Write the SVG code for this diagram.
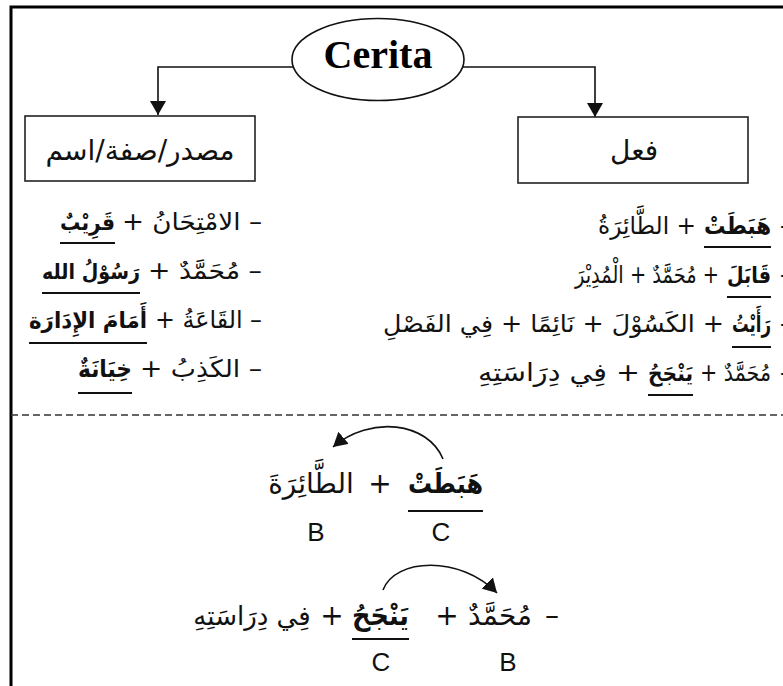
<svg xmlns="http://www.w3.org/2000/svg" width="783" height="686" viewBox="0 0 783 686">
<style>
.ar{font-family:"DejaVu Sans",sans-serif;font-size:24px;fill:#111}
.big{font-size:28px}
.b{font-weight:bold}
.lat{font-family:"Liberation Sans",sans-serif;font-size:26px;fill:#111}
.ul{stroke:#111;stroke-width:2}
.box{fill:#fff;stroke:#222;stroke-width:1.6}
.con{fill:none;stroke:#111;stroke-width:1.6}
</style>
<defs>
<marker id="ah" viewBox="0 0 14 16" refX="14" refY="8" markerWidth="14" markerHeight="16" markerUnits="userSpaceOnUse" orient="auto">
<path d="M0,0 L14,8 L0,16 z" fill="#111"/>
</marker>
</defs>
<rect width="783" height="686" fill="#fff"/>
<path d="M11,686 V7 H783" fill="none" stroke="#000" stroke-width="3"/>
<g id="connectors">
<path class="con" d="M293,67 H158 V115" marker-end="url(#ah)"/>
<path class="con" d="M463,67 H595 V117" marker-end="url(#ah)"/>
<path class="con" d="M443,459 C428,422 370,415 333,447" marker-end="url(#ah)"/>
<path class="con" d="M383,590 C395,558 460,555 497,593" marker-end="url(#ah)"/>
</g>
<g id="cerita">
<ellipse cx="378" cy="59.5" rx="86" ry="41" fill="#fff" stroke="#111" stroke-width="1.6"/>
<text x="378" y="68" text-anchor="middle" font-family="Liberation Serif,serif" font-weight="bold" font-size="40" fill="#000">Cerita</text>
</g>
<g id="box-left">
<rect class="box" x="25" y="116" width="230" height="65"/>
<text class="ar big" x="140" y="160" text-anchor="middle">مصدر/صفة/اسم</text>
</g>
<g id="box-right">
<rect class="box" x="518" y="117" width="230" height="66"/>
<text class="ar big" x="634" y="160" text-anchor="middle">فعل</text>
</g>
<g id="left-list">
<text class="ar" x="122" y="230" textLength="140" lengthAdjust="spacingAndGlyphs">&#x200F;– الامْتِحَانُ +&#x200F;</text>
<text class="ar b" x="60" y="230" textLength="55" lengthAdjust="spacingAndGlyphs" style="font-size:22px">قَرِيْبٌ</text>
<text class="ar" x="148" y="279" textLength="114" lengthAdjust="spacingAndGlyphs">&#x200F;– مُحَمَّدٌ +&#x200F;</text>
<text class="ar b" x="42" y="279" textLength="98" lengthAdjust="spacingAndGlyphs" style="font-size:21px">&#x200F;رَسُوْلُ الله&#x200F;</text>
<text class="ar" x="155" y="328" textLength="107" lengthAdjust="spacingAndGlyphs">&#x200F;– القَاعَةُ +&#x200F;</text>
<text class="ar b" x="29" y="328" textLength="118" lengthAdjust="spacingAndGlyphs" style="font-size:22px">&#x200F;أَمَامَ الإِدَارَة&#x200F;</text>
<text class="ar" x="140" y="377" textLength="122" lengthAdjust="spacingAndGlyphs">&#x200F;– الكَذِبُ +&#x200F;</text>
<text class="ar b" x="78" y="377" textLength="54" lengthAdjust="spacingAndGlyphs">خِيَانَةٌ</text>
<line class="ul" x1="60" y1="243" x2="115" y2="243"/>
<line class="ul" x1="42" y1="293" x2="140" y2="293"/>
<line class="ul" x1="29" y1="343" x2="147" y2="343"/>
<line class="ul" x1="78" y1="393" x2="132" y2="393"/>
</g>
<g id="right-list">
<text class="ar" x="780" y="234">-</text>
<text class="ar" x="780" y="283">-</text>
<text class="ar" x="780" y="332">-</text>
<text class="ar" x="780" y="381">-</text>
<text class="ar b" x="704" y="234" textLength="67" lengthAdjust="spacingAndGlyphs">هَبَطَتْ</text>
<text class="ar" x="598" y="234" textLength="98" lengthAdjust="spacingAndGlyphs">&#x200F;+ الطَّائِرَةُ&#x200F;</text>
<text class="ar b" x="727" y="283" textLength="44" lengthAdjust="spacingAndGlyphs" style="font-size:23px">قَابَلَ</text>
<text class="ar" x="575" y="283" textLength="144" lengthAdjust="spacingAndGlyphs">&#x200F;+ مُحَمَّدٌ + الْمُدِيْرَ&#x200F;</text>
<text class="ar b" x="732" y="332" textLength="39" lengthAdjust="spacingAndGlyphs" style="font-size:23px">رَأَيْتُ</text>
<text class="ar" x="383" y="332" textLength="341" lengthAdjust="spacingAndGlyphs">&#x200F;+ الكَسُوْلَ + نَائِمًا + فِي الفَصْلِ&#x200F;</text>
<text class="ar" x="700" y="381" textLength="71" lengthAdjust="spacingAndGlyphs">&#x200F;مُحَمَّدٌ +&#x200F;</text>
<text class="ar b" x="648" y="381" textLength="45" lengthAdjust="spacingAndGlyphs" style="font-size:22px">يَنْجَحُ</text>
<text class="ar" x="478" y="381" textLength="162" lengthAdjust="spacingAndGlyphs" style="font-size:25px">&#x200F;+ فِي دِرَاسَتِهِ&#x200F;</text>
<line class="ul" x1="704" y1="247" x2="771" y2="247"/>
<line class="ul" x1="727" y1="297" x2="771" y2="297"/>
<line class="ul" x1="732" y1="347" x2="771" y2="347"/>
<line class="ul" x1="648" y1="395" x2="693" y2="395"/>
</g>
<line x1="11" y1="415" x2="783" y2="415" stroke="#333" stroke-width="1.5" stroke-dasharray="7 4"/>
<g id="example-1">
<text class="ar big b" x="408" y="493" textLength="75" lengthAdjust="spacingAndGlyphs">هَبَطَتْ</text>
<text class="ar big" x="380" y="493" text-anchor="middle">+</text>
<text class="ar big" x="311" y="493" text-anchor="middle">الطَّائِرَةَ</text>
<line class="ul" x1="408" y1="511" x2="483" y2="511"/>
<text class="lat" x="316" y="541" text-anchor="middle">B</text>
<text class="lat" x="441" y="541" text-anchor="middle">C</text>
</g>
<g id="example-2">
<text class="ar big" x="552" y="625" text-anchor="middle">–</text>
<text class="ar big" x="500" y="625" text-anchor="middle">مُحَمَّدٌ</text>
<text class="ar big" x="447" y="625" text-anchor="middle">+</text>
<text class="ar big b" x="352" y="625" textLength="57" lengthAdjust="spacingAndGlyphs">يَنْجَحُ</text>
<text class="ar big" x="332" y="625" text-anchor="middle">+</text>
<text class="ar" x="252" y="625" text-anchor="middle" style="font-size:26px">فِي دِرَاسَتِهِ</text>
<line class="ul" x1="352" y1="639" x2="409" y2="639"/>
<text class="lat" x="381" y="671" text-anchor="middle">C</text>
<text class="lat" x="508" y="671" text-anchor="middle">B</text>
</g>
</svg>
